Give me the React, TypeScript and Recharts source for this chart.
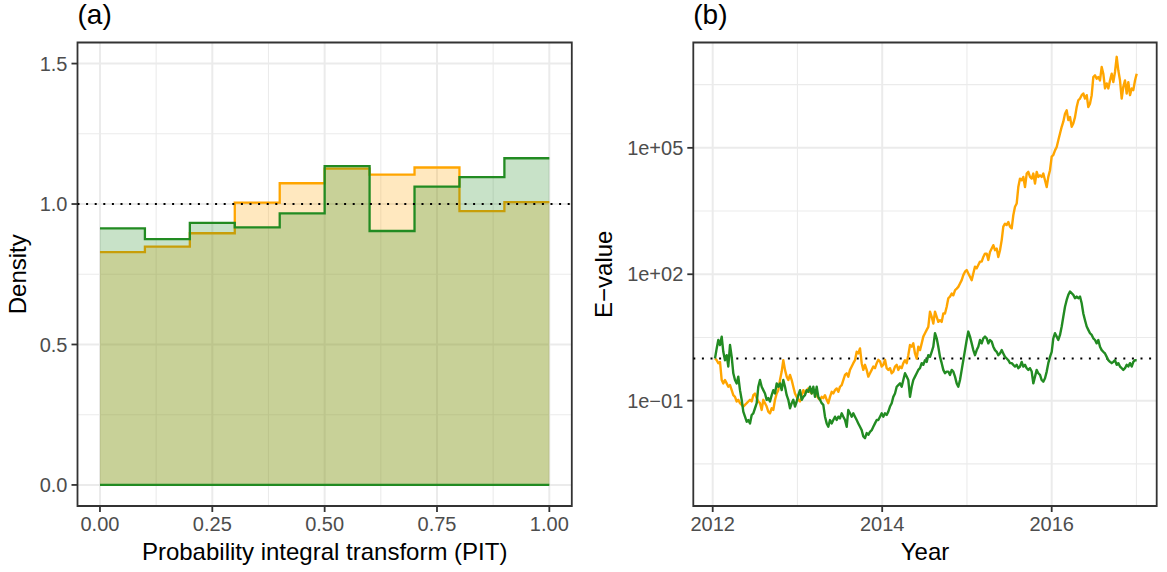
import React from 'react';
import {
  ComposedChart,
  LineChart,
  Area,
  Line,
  XAxis,
  YAxis,
  CartesianGrid,
  ReferenceLine,
  ReferenceArea,
} from 'recharts';

// ---------------------------------------------------------------------------
// Shared look (ggplot theme_bw-like)
// ---------------------------------------------------------------------------
const FONT = '"Liberation Sans", Arial, Helvetica, sans-serif';
const ORANGE = '#FFA500';
const GREEN = '#228B22';
const GRID = '#EBEBEB';
const INK = '#333333';
const TICK_TEXT = '#4D4D4D';

// ---------------------------------------------------------------------------
// Panel (a): PIT histograms
// ---------------------------------------------------------------------------
const pitBinEdges = [0, 0.1, 0.2, 0.3, 0.4, 0.5, 0.6, 0.7, 0.8, 0.9, 1.0];
const pitOrange = [0.829, 0.848, 0.896, 1.005, 1.074, 1.126, 1.105, 1.130, 0.975, 1.007];
const pitGreen = [0.913, 0.875, 0.933, 0.917, 0.967, 1.135, 0.904, 1.062, 1.096, 1.163];
const pitTicksX = [0, 0.25, 0.5, 0.75, 1];
const pitTicksY = [0, 0.5, 1, 1.5];
const pitMinorX = [0.125, 0.375, 0.625, 0.875];
const pitMinorY = [0.25, 0.75, 1.25];

// ---------------------------------------------------------------------------
// Panel (b): E-value paths (stored as log10 of the E-value)
// ---------------------------------------------------------------------------
const years = [
  2012.027, 2012.047, 2012.066, 2012.086, 2012.106, 2012.125, 2012.145, 2012.165, 2012.184, 2012.204,
  2012.224, 2012.243, 2012.263, 2012.283, 2012.302, 2012.322, 2012.342, 2012.361, 2012.381, 2012.401,
  2012.420, 2012.440, 2012.460, 2012.479, 2012.499, 2012.519, 2012.538, 2012.558, 2012.578, 2012.597,
  2012.617, 2012.637, 2012.656, 2012.676, 2012.696, 2012.715, 2012.735, 2012.755, 2012.774, 2012.794,
  2012.814, 2012.833, 2012.853, 2012.873, 2012.892, 2012.912, 2012.932, 2012.951, 2012.971, 2012.991,
  2013.010, 2013.030, 2013.050, 2013.069, 2013.089, 2013.109, 2013.128, 2013.148, 2013.168, 2013.187,
  2013.207, 2013.227, 2013.246, 2013.266, 2013.286, 2013.305, 2013.325, 2013.345, 2013.364, 2013.384,
  2013.404, 2013.423, 2013.443, 2013.463, 2013.482, 2013.502, 2013.522, 2013.541, 2013.561, 2013.581,
  2013.600, 2013.620, 2013.640, 2013.659, 2013.679, 2013.699, 2013.718, 2013.738, 2013.758, 2013.777,
  2013.797, 2013.817, 2013.836, 2013.856, 2013.876, 2013.895, 2013.915, 2013.935, 2013.954, 2013.974,
  2013.994, 2014.013, 2014.033, 2014.053, 2014.072, 2014.092, 2014.112, 2014.131, 2014.151, 2014.171,
  2014.190, 2014.210, 2014.230, 2014.249, 2014.269, 2014.289, 2014.308, 2014.328, 2014.348, 2014.367,
  2014.387, 2014.407, 2014.426, 2014.446, 2014.466, 2014.485, 2014.505, 2014.525, 2014.544, 2014.564,
  2014.584, 2014.603, 2014.623, 2014.643, 2014.662, 2014.682, 2014.702, 2014.721, 2014.741, 2014.761,
  2014.780, 2014.800, 2014.820, 2014.839, 2014.859, 2014.879, 2014.898, 2014.918, 2014.938, 2014.957,
  2014.977, 2014.997, 2015.016, 2015.036, 2015.056, 2015.075, 2015.095, 2015.115, 2015.134, 2015.154,
  2015.174, 2015.193, 2015.213, 2015.233, 2015.252, 2015.272, 2015.292, 2015.311, 2015.331, 2015.351,
  2015.370, 2015.390, 2015.410, 2015.429, 2015.449, 2015.469, 2015.488, 2015.508, 2015.528, 2015.547,
  2015.567, 2015.587, 2015.606, 2015.626, 2015.646, 2015.665, 2015.685, 2015.705, 2015.724, 2015.744,
  2015.764, 2015.783, 2015.803, 2015.823, 2015.842, 2015.862, 2015.882, 2015.901, 2015.921, 2015.941,
  2015.960, 2015.980, 2016.000, 2016.019, 2016.039, 2016.059, 2016.078, 2016.098, 2016.118, 2016.137,
  2016.157, 2016.177, 2016.196, 2016.216, 2016.236, 2016.255, 2016.275, 2016.295, 2016.314, 2016.334,
  2016.354, 2016.373, 2016.393, 2016.413, 2016.432, 2016.452, 2016.472, 2016.491, 2016.511, 2016.531,
  2016.550, 2016.570, 2016.590, 2016.609, 2016.629, 2016.649, 2016.668, 2016.688, 2016.708, 2016.727,
  2016.747, 2016.767, 2016.786, 2016.806, 2016.826, 2016.845, 2016.865, 2016.885, 2016.904, 2016.924,
  2016.944, 2016.963, 2016.983, 2017.003,
];

const orangeLog10 = [
  0.00, -0.04, -0.11, -0.08, -0.51, -0.59, -0.51, -0.59, -0.67, -0.63,
  -0.75, -0.87, -0.91, -1.02, -0.98, -1.06, -1.10, -1.14, -1.10, -1.06,
  -1.02, -0.98, -1.02, -0.87, -0.83, -0.94, -1.02, -1.06, -1.22, -0.98,
  -1.06, -1.14, -1.26, -1.30, -1.18, -1.22, -0.98, -0.83, -0.75, -0.51,
  -0.31, -0.04, -0.27, -0.43, -0.51, -0.39, -0.51, -0.67, -0.83, -0.91,
  -0.98, -1.02, -0.87, -0.75, -0.83, -0.75, -0.71, -0.79, -0.83, -0.75,
  -0.83, -0.87, -0.94, -0.98, -0.91, -0.94, -0.87, -0.98, -1.06, -0.91,
  -0.79, -0.83, -0.75, -0.71, -0.79, -0.67, -0.63, -0.51, -0.39, -0.35,
  -0.43, -0.27, -0.19, -0.11, -0.04, 0.16, 0.12, 0.24, -0.11, -0.27,
  -0.15, -0.27, -0.43, -0.35, -0.27, -0.19, -0.23, -0.11, -0.03, -0.07,
  -0.19, -0.15, -0.03, -0.23, -0.27, -0.23, -0.35, -0.31, -0.19, -0.15,
  -0.27, -0.19, -0.23, -0.11, -0.04, -0.11, 0.08, 0.32, 0.28, 0.36,
  0.12, 0.00, 0.28, 0.20, 0.36, 0.52, 0.60, 0.68, 0.75, 1.11,
  0.99, 0.83, 1.11, 0.99, 0.87, 0.91, 0.87, 1.07, 1.07, 1.23,
  1.43, 1.47, 1.54, 1.50, 1.62, 1.66, 1.70, 1.78, 1.86, 1.98,
  2.06, 2.10, 2.02, 1.94, 1.86, 2.02, 2.18, 2.14, 2.22, 2.30,
  2.30, 2.41, 2.49, 2.49, 2.34, 2.53, 2.61, 2.69, 2.57, 2.61,
  2.41, 2.57, 2.81, 3.13, 3.20, 3.17, 3.24, 3.13, 3.09, 3.40,
  3.60, 3.68, 4.07, 4.27, 4.23, 4.31, 4.07, 4.39, 4.43, 4.31,
  4.27, 4.39, 4.15, 4.43, 4.31, 4.35, 4.31, 4.39, 4.23, 4.07,
  4.31, 4.47, 4.79, 4.83, 4.94, 5.02, 5.18, 5.34, 5.50, 5.62,
  5.81, 5.89, 5.66, 5.73, 5.50, 5.58, 5.73, 5.97, 6.13, 6.17,
  6.25, 6.29, 6.17, 6.25, 5.97, 6.05, 6.25, 6.68, 6.72, 6.64,
  6.68, 6.60, 6.92, 6.76, 6.41, 6.53, 6.41, 6.60, 6.76, 6.56,
  6.80, 7.16, 6.84, 6.60, 6.17, 6.45, 6.60, 6.29, 6.56, 6.25,
  6.41, 6.37, 6.60, 6.76,
];

const greenLog10 = [
  0.00, 0.24, 0.44, 0.32, 0.52, 0.16, -0.04, 0.08, -0.19, 0.32,
  0.04, -0.35, -0.51, -0.59, -0.43, -0.75, -0.98, -1.26, -1.38, -1.50,
  -1.46, -1.54, -1.34, -1.30, -1.18, -1.06, -0.67, -0.51, -0.67, -0.75,
  -0.83, -0.98, -0.94, -1.02, -0.87, -0.75, -0.83, -0.59, -0.67, -0.59,
  -0.75, -0.51, -0.67, -0.87, -0.98, -1.18, -1.06, -0.98, -1.14, -1.02,
  -0.87, -0.75, -0.98, -0.91, -0.87, -0.75, -0.79, -0.67, -0.83, -0.67,
  -0.91, -0.67, -0.91, -0.98, -1.06, -1.10, -1.38, -1.54, -1.62, -1.46,
  -1.54, -1.46, -1.38, -1.46, -1.38, -1.42, -1.30, -1.38, -1.46, -1.62,
  -1.22, -1.30, -1.38, -1.30, -1.38, -1.46, -1.54, -1.62, -1.70, -1.85,
  -1.89, -1.77, -1.81, -1.74, -1.70, -1.62, -1.54, -1.46, -1.46, -1.38,
  -1.30, -1.38, -1.30, -1.34, -1.26, -1.14, -1.06, -0.91, -0.83, -0.67,
  -0.63, -0.59, -0.67, -0.51, -0.35, -0.43, -0.51, -0.91, -0.67, -0.51,
  -0.43, -0.35, -0.27, -0.23, -0.11, -0.15, -0.04, -0.08, 0.08, 0.04,
  0.16, 0.28, 0.60, 0.48, 0.28, 0.04, -0.11, -0.27, -0.35, -0.31,
  -0.31, -0.39, -0.27, -0.31, -0.43, -0.59, -0.67, -0.51, -0.27, -0.04,
  0.20, 0.44, 0.64, 0.52, 0.36, 0.20, 0.08, 0.20, 0.28, 0.44,
  0.36, 0.48, 0.52, 0.48, 0.36, 0.44, 0.40, 0.28, 0.20, 0.16,
  0.08, 0.12, 0.20, 0.12, 0.04, 0.00, -0.04, -0.11, -0.11, -0.15,
  -0.19, -0.15, -0.23, -0.19, -0.08, -0.19, -0.15, -0.23, -0.27, -0.23,
  -0.31, -0.59, -0.43, -0.27, -0.35, -0.39, -0.51, -0.55, -0.47, -0.31,
  -0.11, 0.04, 0.16, 0.48, 0.60, 0.52, 0.44, 0.56, 0.76, 0.99,
  1.23, 1.39, 1.51, 1.59, 1.55, 1.51, 1.43, 1.47, 1.43, 1.47,
  1.31, 1.07, 0.91, 0.76, 0.68, 0.60, 0.56, 0.48, 0.44, 0.36,
  0.44, 0.28, 0.20, 0.16, 0.12, 0.04, -0.04, -0.08, -0.11, -0.08,
  -0.04, -0.15, -0.11, -0.19, -0.23, -0.27, -0.23, -0.15, -0.19, -0.11,
  -0.19, -0.08, -0.04, -0.04,
];

const yearTicks = [2012, 2014, 2016];
const yearMinor = [2013, 2015, 2017];
const eTicks = [1e-1, 1e2, 1e5];
const eMinor = [10 ** -2.5, 10 ** 0.5, 10 ** 3.5, 10 ** 6.5];
// axis limits 1e-3 .. 1e7, expanded by half a decade on each side
const E_MIN = 10 ** -3.5;
const E_MAX = 10 ** 7.5;

// ---------------------------------------------------------------------------
// Tables for recharts
// ---------------------------------------------------------------------------
const pitRows = pitBinEdges.map((x, i) => ({
  x,
  orange: pitOrange[Math.min(i, pitOrange.length - 1)],
  green: pitGreen[Math.min(i, pitGreen.length - 1)],
}));

const eRows = years.map((year, i) => ({
  year,
  orange: Math.pow(10, orangeLog10[i]),
  green: Math.pow(10, greenLog10[i]),
}));

const fmtE = (v: number) => {
  const e = Math.round(Math.log10(v));
  return '1e' + (e < 0 ? '\u2212' : '+') + String(Math.abs(e)).padStart(2, '0');
};

const tickStyle = { fill: TICK_TEXT, fontSize: 20, fontFamily: FONT };
const tickLineStyle = { stroke: INK, strokeWidth: 1.8 };
const titleStyle = { fill: '#000', fontSize: 24, fontFamily: FONT };

const PitPanel = () => (
  <ComposedChart width={583} height={572} data={pitRows} margin={{ top: 42.5, right: 11.2, bottom: 0, left: 0 }}>
    <CartesianGrid stroke={GRID} strokeWidth={1.1} horizontalValues={pitMinorY} verticalValues={pitMinorX} />
    <CartesianGrid stroke={GRID} strokeWidth={2} horizontalValues={pitTicksY} verticalValues={pitTicksX} />
    <XAxis
      dataKey="x"
      type="number"
      domain={[-0.05, 1.05]}
      allowDataOverflow
      ticks={pitTicksX}
      tickFormatter={(v: number) => v.toFixed(2)}
      height={66}
      tickSize={6}
      tickMargin={4.7}
      axisLine={false}
      tickLine={tickLineStyle}
      tick={tickStyle}
      label={{ value: 'Probability integral transform (PIT)', position: 'insideBottom', offset: 12, ...titleStyle }}
    />
    <YAxis
      type="number"
      domain={[-0.075, 1.575]}
      allowDataOverflow
      ticks={pitTicksY}
      tickFormatter={(v: number) => v.toFixed(1)}
      width={77.5}
      tickSize={6}
      tickMargin={4}
      axisLine={false}
      tickLine={tickLineStyle}
      tick={tickStyle}
      label={{ value: 'Density', angle: -90, position: 'insideLeft', offset: 17.5, style: { textAnchor: 'middle' }, ...titleStyle }}
    />
    <Area
      type="stepAfter"
      dataKey="orange"
      baseValue={0}
      stroke={ORANGE}
      strokeWidth={2.3}
      fill={ORANGE}
      fillOpacity={0.25}
      dot={false}
      activeDot={false}
      isAnimationActive={false}
    />
    <Area
      type="stepAfter"
      dataKey="green"
      baseValue={0}
      stroke={GREEN}
      strokeWidth={2.3}
      fill={GREEN}
      fillOpacity={0.25}
      dot={false}
      activeDot={false}
      isAnimationActive={false}
    />
    <ReferenceLine
      segment={[
        { x: pitBinEdges[0], y: 0 },
        { x: pitBinEdges[pitBinEdges.length - 1], y: 0 },
      ]}
      stroke={GREEN}
      strokeWidth={2.3}
    />
    <ReferenceLine y={1} stroke="#000" strokeWidth={2} strokeDasharray="2 6.6" />
    <ReferenceArea x1={-0.05} x2={1.05} y1={-0.075} y2={1.575} fill="none" stroke={INK} strokeWidth={1.8} ifOverflow="visible" />
  </ComposedChart>
);

const EValuePanel = () => (
  <LineChart width={584} height={572} data={eRows} margin={{ top: 42.5, right: 10.3, bottom: 0, left: 0 }}>
    <CartesianGrid stroke={GRID} strokeWidth={1.1} horizontalValues={eMinor} verticalValues={yearMinor} />
    <CartesianGrid stroke={GRID} strokeWidth={2} horizontalValues={eTicks} verticalValues={yearTicks} />
    <XAxis
      dataKey="year"
      type="number"
      domain={[2011.771, 2017.239]}
      allowDataOverflow
      ticks={yearTicks}
      tickFormatter={(v: number) => String(v)}
      height={66}
      tickSize={6}
      tickMargin={4.7}
      axisLine={false}
      tickLine={tickLineStyle}
      tick={tickStyle}
      label={{ value: 'Year', position: 'insideBottom', offset: 12, ...titleStyle }}
    />
    <YAxis
      type="number"
      scale="log"
      domain={[E_MIN, E_MAX]}
      allowDataOverflow
      ticks={eTicks}
      tickFormatter={fmtE}
      width={110.3}
      tickSize={6}
      tickMargin={4}
      axisLine={false}
      tickLine={tickLineStyle}
      tick={tickStyle}
      label={{ value: 'E\u2212value', angle: -90, position: 'insideLeft', offset: 20.5, style: { textAnchor: 'middle' }, ...titleStyle }}
    />
    <ReferenceLine y={1} stroke="#000" strokeWidth={2} strokeDasharray="2 6.6" />
    <Line type="linear" dataKey="orange" stroke={ORANGE} strokeWidth={2.4} strokeLinejoin="round" dot={false} activeDot={false} isAnimationActive={false} />
    <Line type="linear" dataKey="green" stroke={GREEN} strokeWidth={2.4} strokeLinejoin="round" dot={false} activeDot={false} isAnimationActive={false} />
    <ReferenceArea x1={2011.771} x2={2017.239} y1={E_MIN} y2={E_MAX} fill="none" stroke={INK} strokeWidth={1.8} ifOverflow="visible" />
  </LineChart>
);

export default function App() {
  return (
    <div style={{ position: 'absolute', left: 0, top: 0, width: 1167, height: 572, background: '#fff', fontFamily: FONT }}>
      <div style={{ position: 'absolute', left: 0, top: 0 }}>
        <PitPanel />
      </div>
      <div style={{ position: 'absolute', left: 583, top: 0 }}>
        <EValuePanel />
      </div>
      <svg width={1167} height={40} style={{ position: 'absolute', left: 0, top: 0, pointerEvents: 'none' }}>
        <text x={77.5} y={23.5} fontSize={28} fontFamily={FONT} fill="#000">(a)</text>
        <text x={693.3} y={23.5} fontSize={28} fontFamily={FONT} fill="#000">(b)</text>
      </svg>
    </div>
  );
}
